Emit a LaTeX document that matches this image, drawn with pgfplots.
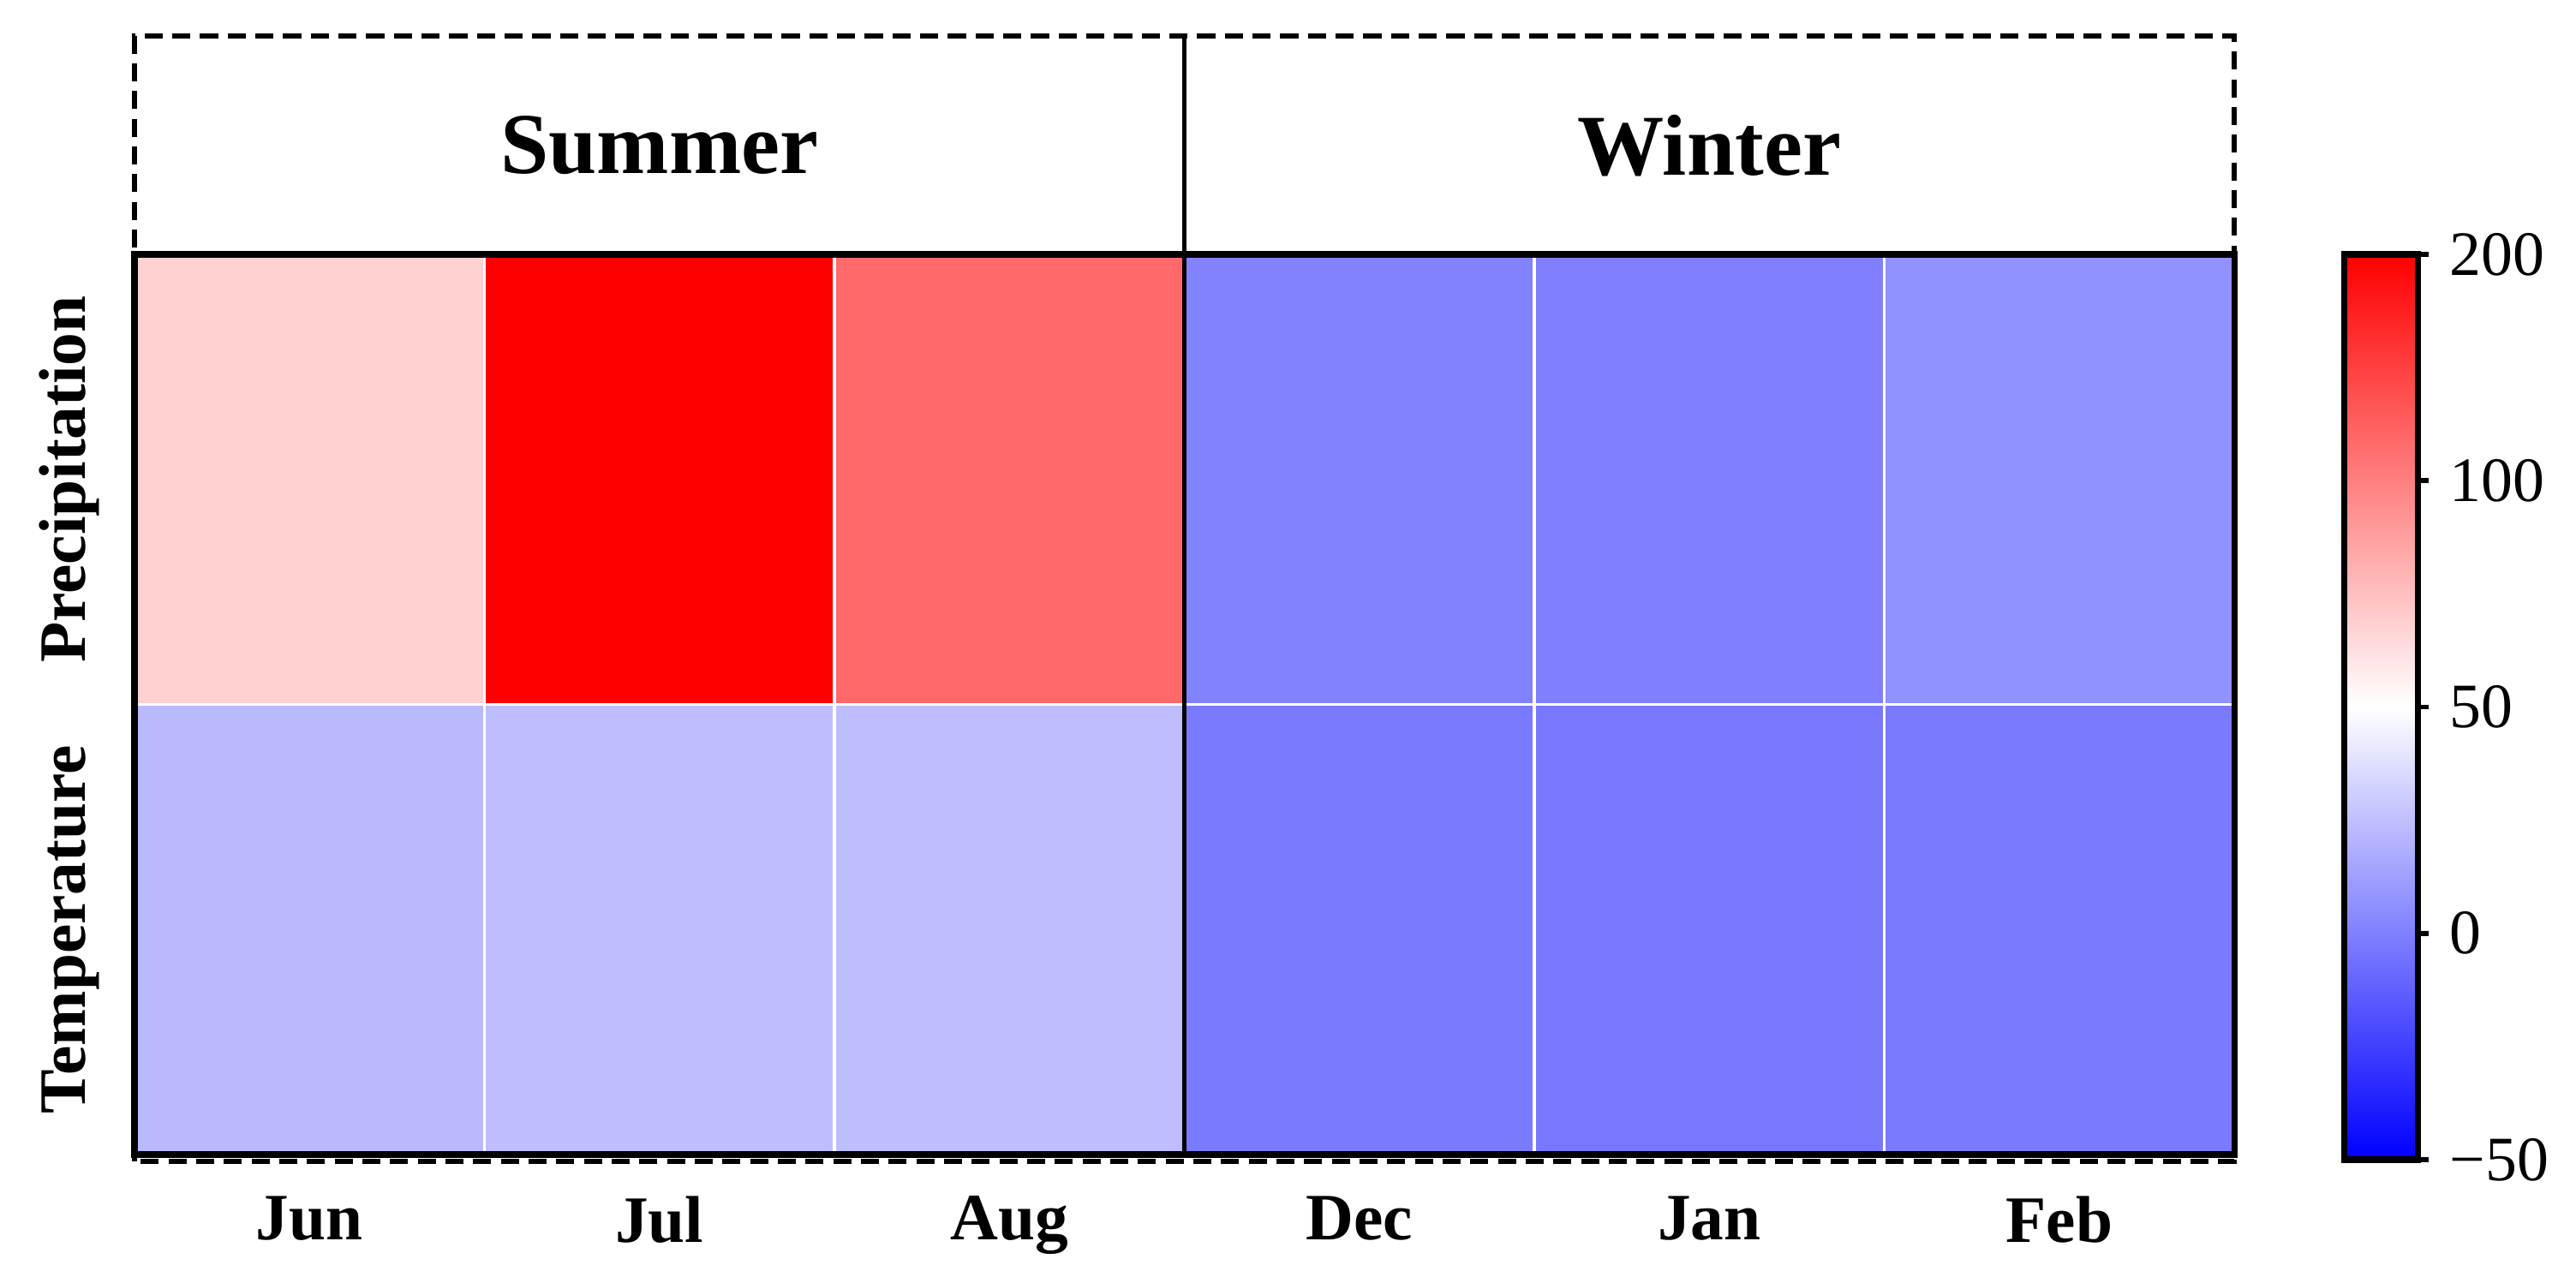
\documentclass[border=0pt]{standalone}
\usepackage{fontspec}
\setmainfont{Liberation Serif}
\usepackage{pgfplots}
\pgfplotsset{compat=1.18}

\begin{document}
\begin{tikzpicture}
\path[use as bounding box] (-0.785,-0.68) rectangle (14.25,6.74);
\begin{axis}[
    at={(0,0)}, anchor=south west,
    width=12.255cm, height=5.255cm, scale only axis,
    xmin=-0.5, xmax=5.5, ymin=-0.5, ymax=1.5,
    xtick={0,...,5}, xticklabels={Jun,Jul,Aug,Dec,Jan,Feb},
    ytick={0,1}, yticklabels={Precipitation,Temperature},
    major tick length=0pt,
    xticklabel style={font=\fontsize{11}{13}\selectfont\bfseries},
    yticklabel style={font=\fontsize{11}{13}\selectfont\bfseries, rotate=90, anchor=south},
    xticklabel shift=0.12cm, yticklabel shift=0.08cm,
    axis line style={line width=1pt},
    axis on top,
    clip=false,
    % colour scale: -50 / 0 / 50 / 100 / 200 evenly spaced (index 0..4)
    colormap={bwr}{rgb255(0cm)=(0,0,255); rgb255(2cm)=(255,255,255); rgb255(4cm)=(255,0,0)},
    point meta min=0, point meta max=4,
    colorbar,
    colorbar style={
      at={(parent axis.north east)}, anchor=north west, xshift=0.34cm,
      width=0.43cm, height=5.285cm,
      ytick={0,1,2,3,4},
      yticklabels={−50,0,50,100,200},
      ytick pos=right,
      yticklabel style={font=\fontsize{10.5}{12}\selectfont},
      major tick length=0.065cm, tick align=outside,
      tick style={black, line width=0.8pt},
      axis line style={line width=1pt},
    },
]
\addplot[matrix plot, mesh/cols=6, draw=white, line width=0.5pt,
  point meta={ifthenelse(\thisrow{v}<50,(\thisrow{v}+50)/50,
    ifthenelse(\thisrow{v}<100,2+(\thisrow{v}-50)/50,3+(\thisrow{v}-100)/100))}]
  table {
x y v
0 0 68
1 0 200
2 0 118
3 0 1
4 0 0
5 0 7
0 1 22.5
1 1 24.5
2 1 24.5
3 1 -2
4 1 -3
5 1 -2
};
\draw[line width=0.9pt, dash pattern=on 3pt off 1.6pt]
  (rel axis cs:0,-0.0076) rectangle (rel axis cs:1,1.2426);
\draw[line width=0.8pt] (rel axis cs:0.5,0) -- (rel axis cs:0.5,1.2426);
\node[font=\fontsize{14.4}{16}\selectfont\bfseries] at (rel axis cs:0.25,1.1209) {Summer};
\node[font=\fontsize{14.4}{16}\selectfont\bfseries] at (rel axis cs:0.75,1.1209) {Winter};
\end{axis}
\end{tikzpicture}
\end{document}
